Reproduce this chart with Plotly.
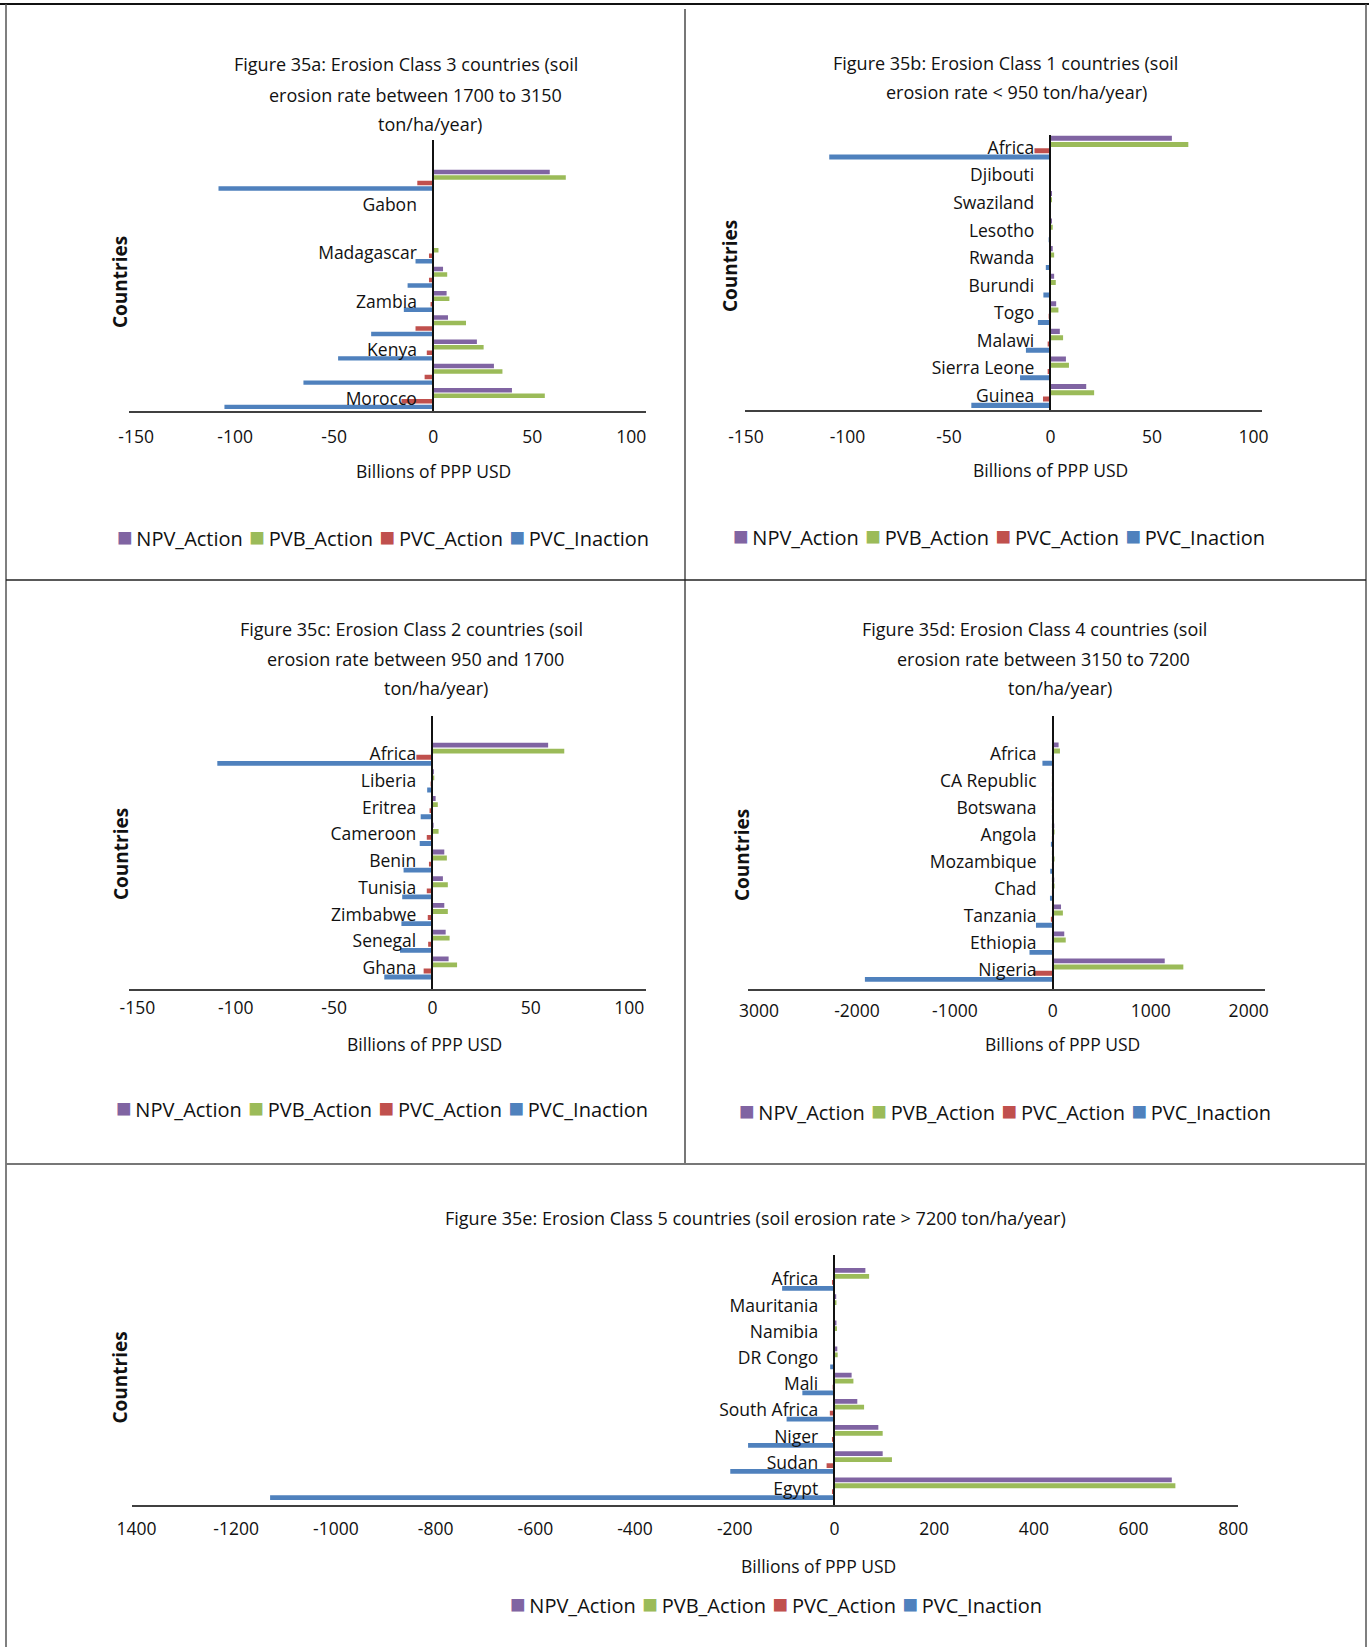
import plotly.graph_objects as go

W, H = 1369, 1647

SERIES = ["PVC_Inaction", "PVC_Action", "PVB_Action", "NPV_Action"]
LEGEND_ORDER = ["NPV_Action", "PVB_Action", "PVC_Action", "PVC_Inaction"]
COLORS = {
    "NPV_Action": "#8064A2",
    "PVB_Action": "#9BBB59",
    "PVC_Action": "#C0504D",
    "PVC_Inaction": "#4F81BD",
}

# --- Figure 35a (class 3), bottom -> top; only every other label is printed
A_COUNTRIES = ["Morocco", "", "Kenya", "", "Zambia", "", "Madagascar", "", "Gabon", "Africa"]
A_NPV = [39.8, 30.7, 22.1, 7.5, 6.8, 5.0, 0.3, 0.05, 0.05, 58.9]
A_PVB = [56.4, 35.0, 25.5, 16.6, 8.2, 7.1, 2.7, 0.1, 0.1, 67.0]
A_PVC_ACT = [-16.0, -4.3, -3.2, -8.9, -1.3, -2.1, -2.1, -0.05, -0.05, -8.0]
A_PVC_INACT = [-105.4, -65.5, -48.0, -31.3, -14.8, -12.9, -8.9, -0.1, -0.1, -108.4]
A_TICKS = [-150, -100, -50, 0, 50, 100]

# --- Figure 35b (class 1)
B_COUNTRIES = ["Guinea", "Sierra Leone", "Malawi", "Togo", "Burundi", "Rwanda",
               "Lesotho", "Swaziland", "Djibouti", "Africa"]
B_NPV = [17.6, 7.6, 4.6, 2.8, 1.8, 1.1, 0.5, 0.7, 0.1, 59.8]
B_PVB = [21.5, 9.1, 6.2, 3.9, 2.6, 1.8, 1.1, 0.7, 0.1, 67.9]
B_PVC_ACT = [-3.7, -1.4, -1.4, -0.9, -0.4, -0.3, -0.2, -0.2, -0.05, -7.9]
B_PVC_INACT = [-39.0, -15.0, -12.1, -6.2, -3.5, -2.3, -0.9, -0.3, -0.1, -109.0]
B_TICKS = [-150, -100, -50, 0, 50, 100]

# --- Figure 35c (class 2)
C_COUNTRIES = ["Ghana", "Senegal", "Zimbabwe", "Tunisia", "Benin", "Cameroon",
               "Eritrea", "Liberia", "Africa"]
C_NPV = [8.2, 6.7, 6.0, 5.3, 6.0, 0.5, 1.6, 0.7, 58.8]
C_PVB = [12.5, 8.7, 7.8, 7.8, 7.3, 3.1, 2.7, 0.9, 67.0]
C_PVC_ACT = [-4.5, -2.2, -2.4, -2.9, -1.8, -2.9, -1.5, -0.7, -8.2]
C_PVC_INACT = [-24.5, -16.5, -15.8, -15.4, -14.7, -6.5, -6.0, -2.7, -109.4]
C_TICKS = [-150, -100, -50, 0, 50, 100]

# --- Figure 35d (class 4)
D_COUNTRIES = ["Nigeria", "Ethiopia", "Tanzania", "Chad", "Mozambique", "Angola",
               "Botswana", "CA Republic", "Africa"]
D_NPV = [1143, 117, 84, 15, 11, 15, 2, 1, 59]
D_PVB = [1333, 132, 103, 18, 18, 18, 3, 2, 73]
D_PVC_ACT = [-198, -7, -11, -2, -2, -2, -1, -1, -8]
D_PVC_INACT = [-1919, -238, -172, -29, -26, -18, -2, -1, -106]
D_TICKS = [-3000, -2000, -1000, 0, 1000, 2000]
D_TICKTEXT = ["3000", "-2000", "-1000", "0", "1000", "2000"]

# --- Figure 35e (class 5)
E_COUNTRIES = ["Egypt", "Sudan", "Niger", "South Africa", "Mali", "DR Congo",
               "Namibia", "Mauritania", "Africa"]
E_NPV = [676.6, 96.7, 88.0, 45.8, 34.4, 5.7, 4.0, 3.5, 62.0]
E_PVB = [683.8, 115.3, 96.7, 59.4, 38.0, 6.4, 5.0, 4.0, 69.5]
E_PVC_ACT = [-5.0, -15.8, -5.0, -9.3, -3.6, -1.0, -0.5, -0.5, -5.0]
E_PVC_INACT = [-1132, -209, -173.3, -96, -64.4, -8.6, -2.0, -1.5, -105]
E_TICKS = [-1400, -1200, -1000, -800, -600, -400, -200, 0, 200, 400, 600, 800]
E_TICKTEXT = ["1400"] + [str(v) for v in E_TICKS[1:]]


def py(y):
    # pixel row (from top) -> paper fraction
    return 1 - y / H


PANELS = [
    dict(countries=A_COUNTRIES, values=[A_PVC_INACT, A_PVC_ACT, A_PVB, A_NPV],
         ticks=A_TICKS, ticktext=[str(v) for v in A_TICKS], step=2,
         xpx=(129, 645.6), ypx=(140, 410.7), xr=(-153.6, 107.3), yr=(-0.5, 10.66),
         stand=9,
         title=[("Figure 35a: Erosion Class 3 countries (soil", 406, 64),
                ("erosion rate between 1700 to 3150", 415.5, 95),
                ("ton/ha/year)", 430, 124)],
         xtitle=(433, 471), ytitle=(120, 282), legend=(383, 536)),
    dict(countries=B_COUNTRIES, values=[B_PVC_INACT, B_PVC_ACT, B_PVB, B_NPV],
         ticks=B_TICKS, ticktext=[str(v) for v in B_TICKS], step=1,
         xpx=(745, 1262), ypx=(135, 410.3), xr=(-150.5, 104.2), yr=(-0.52, 9.46),
         stand=10,
         title=[("Figure 35b: Erosion Class 1 countries (soil", 1005, 63),
                ("erosion rate < 950 ton/ha/year)", 1016.5, 91.5)],
         xtitle=(1050, 470), ytitle=(730, 266), legend=(999, 535)),
    dict(countries=C_COUNTRIES, values=[C_PVC_INACT, C_PVC_ACT, C_PVB, C_NPV],
         ticks=C_TICKS, ticktext=[str(v) for v in C_TICKS], step=1,
         xpx=(128.6, 645.7), ypx=(716, 989.3), xr=(-154.5, 108.4), yr=(-0.8, 9.43),
         stand=2,
         title=[("Figure 35c: Erosion Class 2 countries (soil", 411.3, 629.4),
                ("erosion rate between 950 and 1700", 415.5, 658.8),
                ("ton/ha/year)", 435.5, 688.2)],
         xtitle=(424.5, 1044.4), ytitle=(121, 854), legend=(382, 1106.5)),
    dict(countries=D_COUNTRIES, values=[D_PVC_INACT, D_PVC_ACT, D_PVB, D_NPV],
         ticks=D_TICKS, ticktext=D_TICKTEXT, step=1,
         xpx=(747.9, 1264.6), ypx=(716, 989.3), xr=(-3114, 2163), yr=(-0.71, 9.41),
         stand=5,
         title=[("Figure 35d: Erosion Class 4 countries (soil", 1034.4, 629.4),
                ("erosion rate between 3150 to 7200", 1043.9, 658.8),
                ("ton/ha/year)", 1059.6, 688.2)],
         xtitle=(1062, 1044.4), ytitle=(742, 855), legend=(1005, 1109.5)),
    dict(countries=E_COUNTRIES, values=[E_PVC_INACT, E_PVC_ACT, E_PVB, E_NPV],
         ticks=E_TICKS, ticktext=E_TICKTEXT, step=1,
         xpx=(132, 1238.3), ypx=(1255, 1504.7), xr=(-1409, 810), yr=(-0.61, 8.93),
         stand=7,
         title=[("Figure 35e: Erosion Class 5 countries (soil erosion rate > 7200 ton/ha/year)",
                 755.4, 1217.8)],
         xtitle=(818.5, 1565.5), ytitle=(119, 1377.5), legend=(776, 1603)),
]

# legend rows are written as text: a coloured square then the series name
LEGEND_TEXT = ' <span style="font-size:5px"> </span>'.join(
    f'<span style="color:{COLORS[n]};font-size:26px">■</span>'
    f'<span style="font-size:14px"> </span>{n}'
    for n in LEGEND_ORDER
)

fig = go.Figure()
annotations = []

for i, p in enumerate(PANELS, start=1):
    s = "" if i == 1 else str(i)
    pos = list(range(len(p["countries"])))

    for name, vals in zip(SERIES, p["values"]):
        fig.add_trace(go.Bar(
            x=vals, y=pos, orientation="h", name=name,
            marker=dict(color=COLORS[name], line=dict(width=0)),
            xaxis="x" + s, yaxis="y" + s, showlegend=False,
        ))

    x0, x1 = p["xpx"]
    y0, y1 = p["ypx"]
    r0, r1 = p["xr"]
    zero_px = x0 + (0 - r0) / (r1 - r0) * (x1 - x0)

    fig.layout["xaxis" + s] = dict(
        domain=[x0 / W, x1 / W], range=list(p["xr"]), anchor="y" + s,
        showline=True, linecolor="#404040", linewidth=2, showgrid=False,
        zeroline=False, ticks="", tickvals=p["ticks"], ticktext=p["ticktext"],
        tickfont=dict(size=17.5, color="#111"), ticklabelstandoff=p["stand"],
        automargin=False, fixedrange=True,
    )
    fig.layout["yaxis" + s] = dict(
        domain=[py(y1), py(y0)], range=list(p["yr"]), anchor="free",
        position=zero_px / W, showline=True, linecolor="#111", linewidth=1.5,
        showgrid=False, zeroline=False, ticks="",
        tickvals=pos[::p["step"]], ticktext=p["countries"][::p["step"]],
        tickfont=dict(size=17.5, color="#111"), ticklabelstandoff=12,
        automargin=False, fixedrange=True,
    )

    for text, tx, ty in p["title"]:
        annotations.append(dict(text=text, x=tx / W, y=py(ty), xref="paper", yref="paper",
                                showarrow=False, xanchor="center", yanchor="middle",
                                font=dict(size=18, color="#111")))
    tx, ty = p["xtitle"]
    annotations.append(dict(text="Billions of PPP USD", x=tx / W, y=py(ty), xref="paper",
                            yref="paper", showarrow=False, xanchor="center",
                            yanchor="middle", font=dict(size=17.5, color="#111")))
    tx, ty = p["ytitle"]
    annotations.append(dict(text="<b>Countries</b>", x=tx / W, y=py(ty), xref="paper",
                            yref="paper", showarrow=False, textangle=-90,
                            xanchor="center", yanchor="middle",
                            font=dict(size=19, color="#111")))
    tx, ty = p["legend"]
    annotations.append(dict(text=LEGEND_TEXT, x=tx / W, y=py(ty), xref="paper",
                            yref="paper", showarrow=False, xanchor="center",
                            yanchor="middle", font=dict(size=20, color="#111")))


# table-like frame around the panels
def hline(y, xa, xb, color, width):
    return dict(type="line", xref="paper", yref="paper", x0=xa / W, x1=xb / W,
                y0=py(y), y1=py(y), line=dict(color=color, width=width))


def vline(x, ya, yb, color, width):
    return dict(type="line", xref="paper", yref="paper", x0=x / W, x1=x / W,
                y0=py(ya), y1=py(yb), line=dict(color=color, width=width))


shapes = [
    hline(4, 0, W, "#111", 2),
    vline(6, 4, H, "#555", 1.5),
    vline(1366, 4, H, "#555", 1.5),
    vline(685, 9, 1164, "#777", 2),
    hline(580, 6, 1366, "#222", 1.5),
    hline(1164, 6, 1366, "#777", 2),
]

fig.update_layout(
    width=W, height=H, margin=dict(l=0, r=0, t=0, b=0, autoexpand=False),
    paper_bgcolor="white", plot_bgcolor="white",
    barmode="group", bargap=0.09, bargroupgap=0.2,
    font=dict(family="Open Sans", size=16, color="#111"),
    annotations=annotations, shapes=shapes, showlegend=False,
)

fig.write_html("out.html", config={"displayModeBar": False},
               post_script="document.body.style.margin='0';")
